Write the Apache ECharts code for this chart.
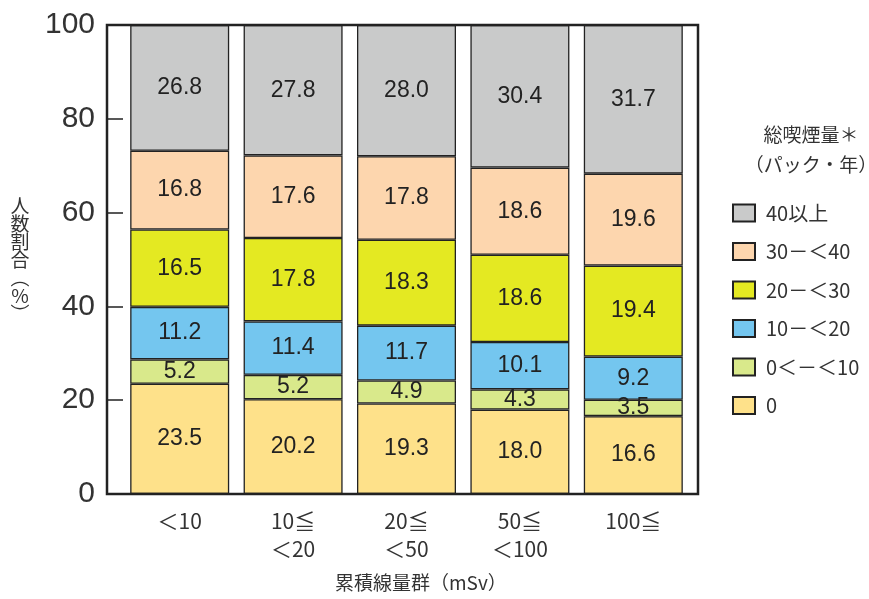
<!DOCTYPE html>
<html><head><meta charset="utf-8">
<script src="https://cdn.jsdelivr.net/npm/echarts@6/dist/echarts.min.js"></script>
<style>html,body{margin:0;padding:0;background:#fff}#c{width:869px;height:599px}</style>
</head><body><div id="c"></div>
<script>
const categories = ['＜10', '10≦\n＜20', '20≦\n＜50', '50≦\n＜100', '100≦'];
const seriesNames = ['0', '0＜－＜10', '10－＜20', '20－＜30', '30－＜40', '40以上'];
const s0 = [23.5, 20.2, 19.3, 18.0, 16.6];
const s0to10 = [5.2, 5.2, 4.9, 4.3, 3.5];
const s10to20 = [11.2, 11.4, 11.7, 10.1, 9.2];
const s20to30 = [16.5, 17.8, 18.3, 18.6, 19.4];
const s30to40 = [16.8, 17.6, 17.8, 18.6, 19.6];
const s40plus = [26.8, 27.8, 28.0, 30.4, 31.7];
const yTicks = [0, 20, 40, 60, 80, 100];

const values = [s0, s0to10, s10to20, s20to30, s30to40, s40plus];
const colors = ['#fee18a', '#d9e98b', '#74c6ef', '#e4e922', '#fdd6ae', '#c9caca'];
const FONT = '"Liberation Sans", "Noto Sans CJK JP", sans-serif';
const JP = '"Noto Sans CJK JP", "Liberation Sans", sans-serif';

const chart = echarts.init(document.getElementById('c'));
chart.setOption({
  animation: false,
  backgroundColor: '#fff',
  grid: { left: 123, right: 179, top: 25, bottom: 105 },
  xAxis: {
    type: 'category',
    data: categories,
    axisLine: { show: false },
    axisTick: { show: false },
    axisLabel: { fontSize: 21, lineHeight: 28, color: '#333', margin: 13, fontFamily: JP, interval: 0 }
  },
  yAxis: {
    type: 'value',
    min: yTicks[0], max: yTicks[yTicks.length - 1], interval: 20,
    splitLine: { show: false },
    axisLine: { show: false },
    axisTick: { show: true, length: 16, lineStyle: { color: '#222', width: 1.5 } },
    axisLabel: { fontSize: 30, color: '#333', margin: 28, fontFamily: FONT },
    name: '人\n数\n割\n合\n︵\n%\n︶',
    nameLocation: 'middle',
    nameRotate: 0,
    nameGap: 103,
    nameTextStyle: { fontSize: 19, lineHeight: 18, color: '#333', align: 'center', verticalAlign: 'middle', fontFamily: JP, padding: [10, 0, 0, 0] }
  },
  legend: {
    data: seriesNames.slice().reverse(),
    orient: 'vertical',
    left: 727, top: 198,
    itemWidth: 22, itemHeight: 17, itemGap: 18.5,
    icon: 'rect',
    textStyle: { fontSize: 20, color: '#333', fontFamily: JP, padding: [0, 0, 0, 6] }
  },
  title: {
    text: '総喫煙量＊\n（パック・年）',
    left: 806, top: 115, textAlign: 'center',
    textStyle: { fontSize: 19, lineHeight: 30, fontWeight: 'normal', color: '#333', fontFamily: JP }
  },
  graphic: [
    { type: 'rect', shape: { x: 107, y: 25, width: 591, height: 469 }, style: { fill: 'none', stroke: '#222', lineWidth: 2.5 }, z: 100 },
    { type: 'text', left: 335, top: 573, style: { text: '累積線量群（mSv）', fontSize: 19, fill: '#333', fontFamily: JP } }
  ],
  series: seriesNames.map((n, i) => ({
    name: n,
    type: 'bar',
    stack: 'total',
    barWidth: 99,
    data: values[i],
    itemStyle: { color: colors[i], borderColor: '#222', borderWidth: 1.3 },
    label: { show: true, position: 'inside', fontSize: 23, color: '#222', fontFamily: FONT, formatter: p => p.value.toFixed(1) }
  }))
});
</script></body></html>
